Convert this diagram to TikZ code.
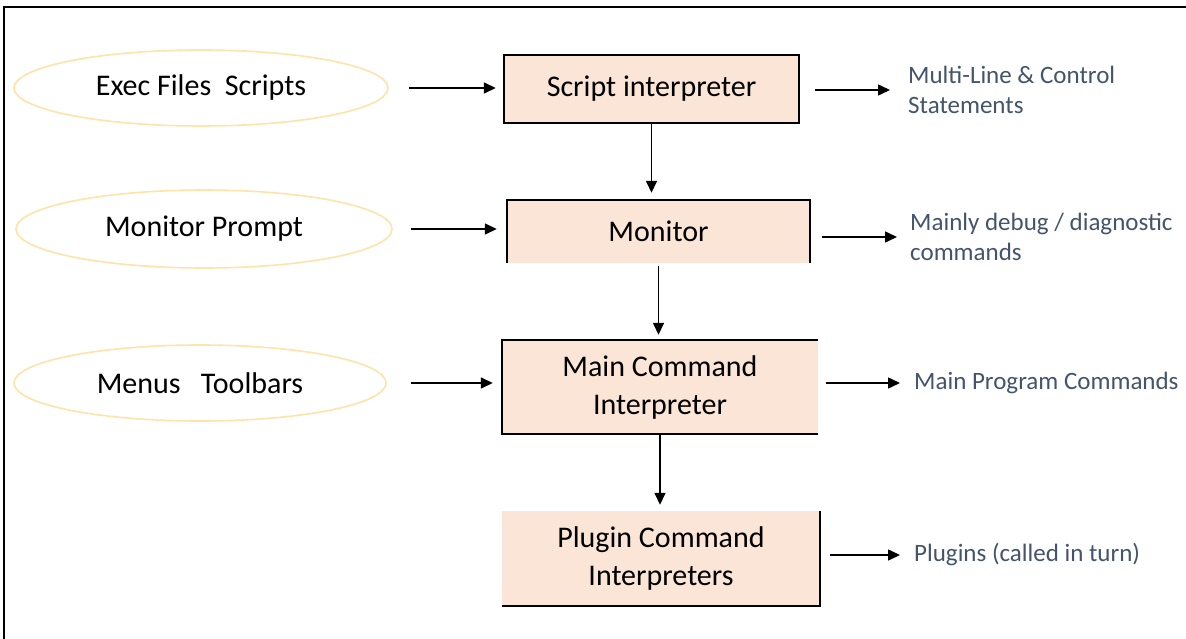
\documentclass[tikz,border=0pt]{standalone}
\usepackage{fontspec}
\setmainfont{Carlito}
\usetikzlibrary{arrows.meta,shapes.geometric}
\definecolor{boxfill}{HTML}{FBE5D6}
\definecolor{ellline}{HTML}{FFE3A8}
\definecolor{note}{HTML}{44546A}
\tikzset{
  stage/.style={rectangle, fill=boxfill, inner sep=0pt, align=center, font=\fontsize{30}{38}\selectfont},
  source/.style={ellipse, draw=ellline, line width=1.6pt, fill=white, inner sep=0pt, font=\fontsize{30}{34}\selectfont},
  notetext/.style={anchor=west, align=left, text=note, inner sep=0pt, font=\fontsize{25}{30}\selectfont},
  edge/.style={line width=1.6pt, black},
  arr/.style={-{Triangle[length=12pt,width=11pt]}, line width=1.5pt, black},
}
\begin{document}
\begin{tikzpicture}[x=1pt,y=-1pt]
\useasboundingbox (0,0) rectangle (1186,639);
\fill[white] (0,0) rectangle (1186,639);
% frame
\draw[line width=2pt] (4,639) -- (4,7) -- (1186,7);

% source ellipses
\node[source, minimum width=374pt, minimum height=76pt] (e1) at (201,88) {Exec Files\ \ Scripts};
\node[source, minimum width=376pt, minimum height=78pt] (e2) at (204,229) {Monitor Prompt};
\node[source, minimum width=372pt, minimum height=76pt] (e3) at (200,383) {Menus\ \ \ Toolbars};

% stage boxes
\node[stage, minimum width=295pt, minimum height=68pt] (s1) at (651.5,89) {Script interpreter};
\node[stage, minimum width=303pt, minimum height=63pt] (s2) at (658.5,231.5) {Monitor};
\node[stage, minimum width=316pt, minimum height=94pt] (s3) at (660,387) {Main Command\\Interpreter};
\node[stage, minimum width=318pt, minimum height=95pt] (s4) at (661,558.5) {Plugin Command\\Interpreters};

% box borders (partial, as printed)
\draw[edge] (s1.south west) rectangle (s1.north east);
\draw[edge] (s2.south west) -- (s2.north west) -- (s2.north east) -- (s2.south east);
\draw[edge] (s3.north east) -- (s3.north west) -- (s3.south west) -- (s3.south east);
\draw[edge] (s4.north east) -- (s4.south east) -- (s4.south west);

% notes
\node[notetext] (t1) at (908,90) {Multi-Line \& Control\\Statements};
\node[notetext] (t2) at (910,237) {Mainly debug / diagnostic\\commands};
\node[notetext] (t3) at (914,383) {Main Program Commands};
\node[notetext] (t4) at (914,555) {Plugins (called in turn)};

% inputs
\draw[arr, shorten <=20pt, shorten >=8pt] (e1.east) -- (s1.west |- e1.east);
\draw[arr, shorten <=18pt, shorten >=10pt] (e2.east) -- (s2.west |- e2.east);
\draw[arr, shorten <=24pt, shorten >=9pt] (e3.east) -- (s3.west |- e3.east);

% vertical flow
\draw[arr, shorten >=7pt] (s1.south) -- (s1.south |- s2.north);
\draw[arr, shorten <=3pt, shorten >=5pt] (s2.south) -- (s2.south |- s3.north);
\draw[arr, shorten >=6pt] (s3.south) -- (s3.south |- s4.north);

% outputs
\draw[arr, shorten <=16pt, shorten >=18pt] (s1.east |- t1.west) -- (t1.west);
\draw[arr, shorten <=12pt, shorten >=13pt] (s2.east |- t2.west) -- (t2.west);
\draw[arr, shorten <=8pt, shorten >=14pt] (s3.east |- t3.west) -- (t3.west);
\draw[arr, shorten <=10pt, shorten >=14pt] (s4.east |- t4.west) -- (t4.west);
\end{tikzpicture}
\end{document}
